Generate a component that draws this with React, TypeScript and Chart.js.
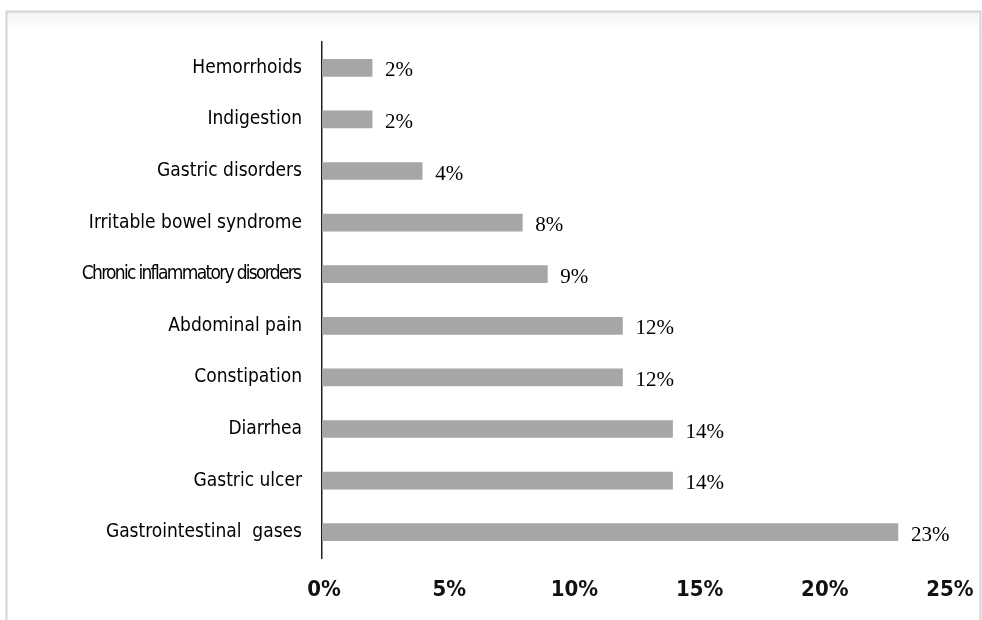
import React, { useEffect, useRef } from "react";
import { Chart, registerables } from "chart.js";

Chart.register(...registerables);

const categories = [
  "Hemorrhoids",
  "Indigestion",
  "Gastric disorders",
  "Irritable bowel syndrome",
  "Chronic inflammatory disorders",
  "Abdominal pain",
  "Constipation",
  "Diarrhea",
  "Gastric ulcer",
  "Gastrointestinal  gases",
];

const percentages = [2, 2, 4, 8, 9, 12, 12, 14, 14, 23];

const xTicks = [0, 5, 10, 15, 20, 25];

// Extra tracking (px) applied to individual category labels
const labelTracking = [0, 0, 0, 0, -1.7, 0, 0, 0, 0, 0];

const W = 982;
const H = 620;
const LABEL_FONT = "19px 'Liberation Sans Narrow', 'DejaVu Sans Condensed', sans-serif";

// Light frame around the figure plus a faint shadow under the top edge
const framePlugin = {
  id: "frame",
  beforeDraw(chart: any) {
    const ctx = chart.ctx;
    ctx.save();
    ctx.fillStyle = "#ffffff";
    ctx.fillRect(0, 0, chart.width, chart.height);
    const g = ctx.createLinearGradient(0, 12, 0, 30);
    g.addColorStop(0, "rgba(0,0,0,0.05)");
    g.addColorStop(1, "rgba(0,0,0,0)");
    ctx.fillStyle = g;
    ctx.fillRect(7, 12, chart.width - 9, 18);
    ctx.strokeStyle = "#d4d4d4";
    ctx.lineWidth = 2;
    ctx.beginPath();
    ctx.moveTo(6.5, chart.height);
    ctx.lineTo(6.5, 11.5);
    ctx.lineTo(980.5, 11.5);
    ctx.lineTo(980.5, chart.height);
    ctx.stroke();
    ctx.restore();
  },
};

// Category names, right-aligned against the vertical axis at each tick
const categoryLabelPlugin = {
  id: "categoryLabels",
  afterDraw(chart: any) {
    const ctx = chart.ctx;
    const yScale = chart.scales.y;
    const right = chart.chartArea.left - 19;
    ctx.save();
    ctx.font = LABEL_FONT;
    ctx.fillStyle = "#000000";
    ctx.textAlign = "right";
    ctx.textBaseline = "middle";
    categories.forEach((label, i) => {
      const y = yScale.getPixelForTick(i);
      ctx.save();
      ctx.letterSpacing = labelTracking[i] + "px";
      ctx.fillText(label, right + labelTracking[i] - 1, y);
      ctx.restore();
    });
    ctx.restore();
  },
};

// Percentage value written just past the end of each bar
const valueLabelPlugin = {
  id: "valueLabels",
  afterDatasetsDraw(chart: any) {
    const ctx = chart.ctx;
    const meta = chart.getDatasetMeta(0);
    ctx.save();
    ctx.font = "21px 'Liberation Serif', 'DejaVu Serif', serif";
    ctx.fillStyle = "#000000";
    ctx.textAlign = "left";
    ctx.textBaseline = "middle";
    meta.data.forEach((bar: any, i: number) => {
      ctx.fillText(percentages[i] + "%", bar.x + 13, bar.y + 3);
    });
    ctx.restore();
  },
};

export default function App() {
  const canvasRef = useRef<HTMLCanvasElement | null>(null);

  useEffect(() => {
    if (!canvasRef.current) return;
    const chart = new Chart(canvasRef.current, {
      type: "bar",
      data: {
        labels: categories,
        datasets: [
          {
            data: percentages,
            backgroundColor: "#a6a6a6",
            borderWidth: 0,
            barThickness: 17,
          },
        ],
      },
      options: {
        indexAxis: "y",
        animation: false,
        responsive: false,
        maintainAspectRatio: false,
        layout: { padding: { top: 42, right: 34, left: 0, bottom: 0 } },
        plugins: {
          legend: { display: false },
          tooltip: { enabled: false },
        },
        scales: {
          x: {
            min: 0,
            max: 25,
            afterBuildTicks(scale: any) {
              scale.ticks = xTicks.map((v) => ({ value: v }));
            },
            afterFit(scale: any) {
              scale.height = 62;
              scale.paddingLeft = 0;
              scale.paddingRight = 0;
            },
            grid: { display: false, drawTicks: false },
            border: { display: false },
            ticks: {
              padding: 19,
              labelOffset: 2,
              color: "#111111",
              maxRotation: 0,
              font: { family: "'Liberation Sans Narrow', 'DejaVu Sans Condensed', sans-serif", size: 22, weight: "bold" },
              callback: (v: any) => v + "%",
            },
          },
          y: {
            afterFit(scale: any) {
              scale.width = 322;
            },
            grid: { display: false, drawTicks: false },
            border: { display: true, color: "#222222", width: 1.5 },
            ticks: { display: false },
          },
        },
      },
      plugins: [framePlugin, valueLabelPlugin, categoryLabelPlugin],
    });
    return () => chart.destroy();
  }, []);

  return (
    <div style={{ position: "fixed", left: 0, top: 0, width: W, height: H, background: "#fff" }}>
      <canvas ref={canvasRef} width={W} height={H} style={{ width: W, height: H, display: "block" }} />
    </div>
  );
}
